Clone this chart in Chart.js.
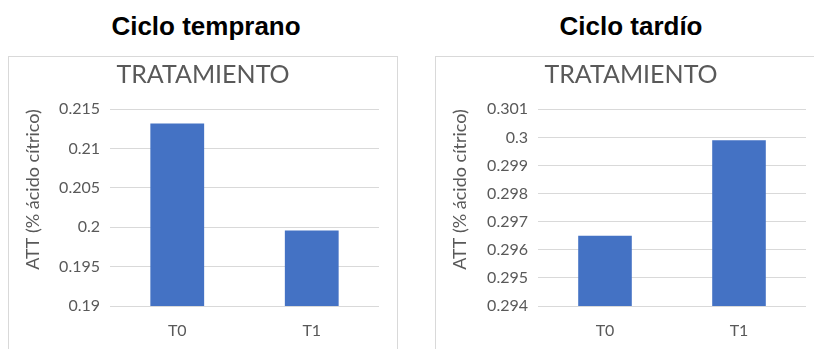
<!DOCTYPE html>
<html>
<head>
<meta charset="utf-8">
<script src="https://cdn.jsdelivr.net/npm/chart.js@4.4.1/dist/chart.umd.min.js"></script>
<style>
  html, body { margin:0; padding:0; background:#fff; width:814px; height:349px; overflow:hidden; position:relative; }
  .heading { position:absolute; top:12px; width:390px; text-align:center; font:bold 26px "Liberation Sans", Arial, sans-serif; line-height:29px; color:#000; }
  .box { position:absolute; top:56px; height:310px; border:1px solid #d9d9d9; box-sizing:border-box; }
  .wrap { position:absolute; top:56px; height:293px; }
</style>
</head>
<body>
<div class="heading" style="left:11px">Ciclo temprano</div>
<div class="heading" style="left:436px">Ciclo tardío</div>

<div class="box" style="left:8px;width:390px"></div>
<div class="box" style="left:435px;width:400px"></div>

<div class="wrap" style="left:8px;width:390px"><canvas id="early"></canvas></div>
<div class="wrap" style="left:435px;width:392px"><canvas id="late"></canvas></div>

<script>
const categories = ["T0", "T1"];
// ATT (% ácido cítrico) por tratamiento
const earlyValues = [0.2132, 0.1996];
const lateValues = [0.2965, 0.2999];
const earlyTicks = [0.19, 0.195, 0.2, 0.205, 0.21, 0.215];
const lateTicks = [0.294, 0.295, 0.296, 0.297, 0.298, 0.299, 0.3, 0.301];

const grey = "#595959";
const font = "Lato";

function makeChart(id, values, ticks, axisWidth, rightGap){
  new Chart(document.getElementById(id), {
    type: "bar",
    data: {
      labels: categories,
      datasets: [{
        data: values,
        backgroundColor: "#4472c4",
        categoryPercentage: 0.8,
        barPercentage: 0.5
      }]
    },
    options: {
      responsive: false,
      animation: false,
      layout: { padding: 0 },
      plugins: {
        legend: { display: false },
        tooltip: { enabled: false },
        title: {
          display: true,
          text: "TRATAMIENTO",
          color: grey,
          font: { family: font, size: 25, weight: "normal", lineHeight: 1.2 },
          padding: { top: 4, bottom: 19.3 }
        }
      },
      scales: {
        x: {
          grid: { display: false },
          border: { display: false },
          ticks: { color: grey, font: { family: font, size: 16 }, padding: 7 },
          afterFit: s => { s.height = 43 }
        },
        y: {
          min: ticks[0],
          max: ticks[ticks.length - 1],
          afterBuildTicks: s => { s.ticks = ticks.map(v => ({ value: v })) },
          grid: { color: "#d9d9d9", drawTicks: false },
          border: { display: false },
          ticks: {
            color: grey,
            font: { family: font, size: 16 },
            padding: 10,
            callback: v => String(v)
          },
          title: {
            display: true,
            align: "end",
            text: "ATT (% ácido cítrico)",
            color: grey,
            font: { family: font, size: 18 },
            padding: { top: 14, bottom: 0 }
          },
          afterFit: s => { s.width = axisWidth }
        },
        // empty right axis, only keeps the gap after the last bar
        gap: {
          position: "right",
          grid: { display: false },
          border: { display: false },
          ticks: { display: false },
          afterFit: s => { s.width = rightGap }
        }
      }
    }
  });
}

document.getElementById("early").width = 390;
document.getElementById("early").height = 293;
document.getElementById("late").width = 392;
document.getElementById("late").height = 293;

makeChart("early", earlyValues, earlyTicks, 102, 19);
makeChart("late", lateValues, lateTicks, 103, 21);
</script>
</body>
</html>
